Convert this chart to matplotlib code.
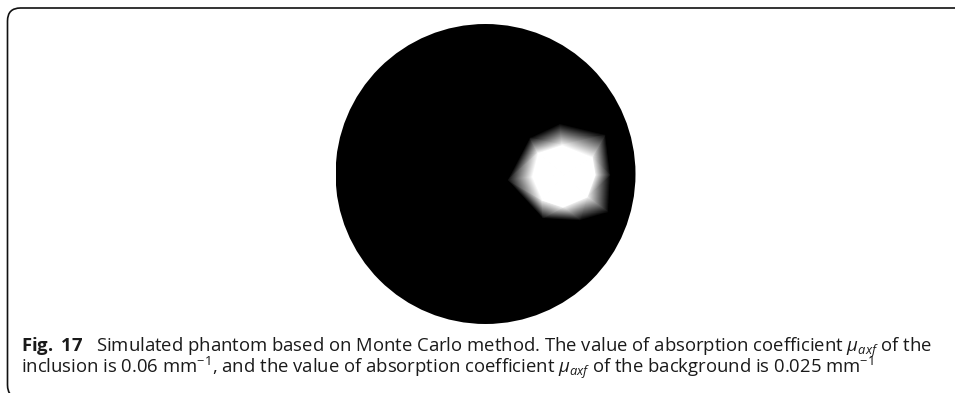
import numpy as np
import matplotlib
matplotlib.use("Agg")
import matplotlib.pyplot as plt
import matplotlib.tri as mtri
from matplotlib.patches import Circle, FancyBboxPatch

plt.rcParams['mathtext.fontset'] = 'custom'
plt.rcParams['mathtext.rm'] = 'Open Sans'
plt.rcParams['mathtext.it'] = 'Open Sans:italic'
plt.rcParams['mathtext.bf'] = 'Open Sans:bold'

# absorption coefficients (mm^-1)
mu_background = 0.025
mu_inclusion = 0.06

# mesh nodes of the inclusion region (unit-radius phantom)
inner_x = [0.51, 0.71, 0.73, 0.677, 0.517, 0.377, 0.31, 0.35]
inner_y = [0.193, 0.113, -0.007, -0.153, -0.22, -0.173, -0.02, 0.14]
outer_x = [0.497, 0.797, 0.83, 0.817, 0.63, 0.383, 0.15, 0.297]
outer_y = [0.333, 0.26, -0.007, -0.253, -0.307, -0.293, -0.04, 0.24]
center_xy = (0.525, -0.005)

caption = ("$\\mathbf{Fig.}$ $\\mathbf{17}$   Simulated phantom based on Monte Carlo method. "
           "The value of absorption coefficient $\\mu_{axf}$ of the\n"
           "inclusion is 0.06 mm$^{-1}$, and the value of absorption coefficient "
           "$\\mu_{axf}$ of the background is 0.025 mm$^{-1}$")

W, H = 955, 393
fig = plt.figure(figsize=(W / 100, H / 100), dpi=100)

# frame around the figure panel
frame = FancyBboxPatch((0.075, -0.05), 10.0, 3.90,
                       boxstyle="round,pad=0,rounding_size=0.13",
                       transform=fig.dpi_scale_trans, fill=False,
                       edgecolor='#111111', linewidth=1.2)
fig.patches.append(frame)

cx, cy, r = 485.5, 174, 150
ax = fig.add_axes([(cx - r) / W, (H - cy - r) / H, 2 * r / W, 2 * r / H])
ax.set_xlim(-1, 1)
ax.set_ylim(-1, 1)
ax.set_aspect('equal')
ax.axis('off')

ax.add_patch(Circle((0, 0), 1.0, facecolor='black', edgecolor='none'))

xs = np.array([center_xy[0]] + inner_x + outer_x)
ys = np.array([center_xy[1]] + inner_y + outer_y)
vals = np.array([mu_inclusion] * (1 + len(inner_x)) + [mu_background] * len(outer_x))
tri = mtri.Triangulation(xs, ys)
ax.tripcolor(tri, vals, shading='gouraud', cmap='gray',
             vmin=mu_background, vmax=mu_inclusion)

fig.text(21 / W, 1 - 373 / H, caption, fontsize=13.3, family='Open Sans',
         color='#1a1a1a', va='baseline', linespacing=0.72)

fig.savefig("out.png", dpi=100)
